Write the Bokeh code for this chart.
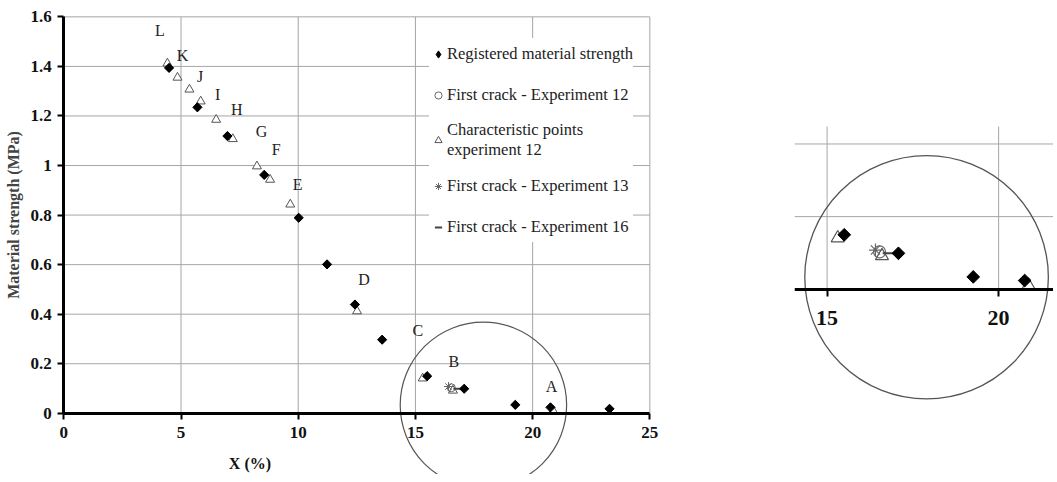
import math
from bokeh.plotting import figure
from bokeh.layouts import row
from bokeh.models import FixedTicker, Legend, LegendItem, Label
from bokeh.core.properties import value
from bokeh.embed import file_html
from bokeh.resources import INLINE

# ---------------- data ----------------
reg_x = [4.49, 5.70, 6.98, 8.55, 10.02, 11.23, 12.42, 13.58, 15.50, 17.08, 19.26, 20.76, 23.28]
reg_y = [1.394, 1.235, 1.119, 0.962, 0.789, 0.601, 0.439, 0.297, 0.150, 0.099, 0.034, 0.024, 0.018]

char_x = [4.42, 4.85, 5.36, 5.84, 6.50, 7.21, 8.24, 8.80, 9.66, 12.51, 15.31, 16.60, 20.87]
char_y = [1.412, 1.355, 1.307, 1.259, 1.185, 1.107, 0.997, 0.943, 0.843, 0.412, 0.141, 0.092, 0.011]

fc12_x = [16.53]
fc12_y = [0.103]
fc13_x = [16.41]
fc13_y = [0.108]
fc16_x = [16.81]
fc16_y = [0.099]

pt_labels = ["L", "K", "J", "I", "H", "G", "F", "E", "D", "C", "B", "A"]
pt_label_x = [4.10, 5.06, 5.81, 6.56, 7.38, 8.44, 9.06, 9.97, 12.81, 15.10, 16.64, 20.81]
pt_label_y = [1.543, 1.445, 1.358, 1.286, 1.228, 1.139, 1.064, 0.924, 0.540, 0.334, 0.210, 0.108]

zone_x = [17.9]
zone_y = [0.033]
zone_w = [7.1]
zone_h = [0.67]

x_ticks = [0, 5, 10, 15, 20, 25]
y_ticks = [0, 0.2, 0.4, 0.6, 0.8, 1, 1.2, 1.4, 1.6]
y_tick_labels = ["0", "0.2", "0.4", "0.6", "0.8", "1", "1.2", "1.4", "1.6"]

inset_x_ticks = [15, 20]
inset_y_grid = [0.2, 0.4]

x_title = "X (%)"
y_title = "Material strength (MPa)"

FONT = "'Liberation Serif', 'Times New Roman', serif"
GRID = "#a6a6a6"

# ---------------- main chart ----------------
p = figure(width=794, height=474, x_range=(-2.70, 31.17), y_range=(-0.247, 1.666),
           output_backend="svg", toolbar_location=None,
           min_border_left=0, min_border_right=0, min_border_top=0, min_border_bottom=0)
p.outline_line_color = None
p.xgrid.visible = False
p.ygrid.visible = False

# gridlines (bounded to the data area)
p.segment(x0=x_ticks[1:], y0=[y_ticks[0]] * (len(x_ticks) - 1),
          x1=x_ticks[1:], y1=[y_ticks[-1]] * (len(x_ticks) - 1),
          line_color=GRID, line_width=1)
p.segment(x0=[x_ticks[0]] * (len(y_ticks) - 1), y0=y_ticks[1:],
          x1=[x_ticks[-1]] * (len(y_ticks) - 1), y1=y_ticks[1:],
          line_color=GRID, line_width=1)

# axes
p.xaxis.fixed_location = 0
p.xaxis.bounds = (x_ticks[0], x_ticks[-1])
p.xaxis.ticker = FixedTicker(ticks=x_ticks)
p.yaxis.fixed_location = 0
p.yaxis.bounds = (y_ticks[0], y_ticks[-1])
p.yaxis.ticker = FixedTicker(ticks=y_ticks)
p.yaxis.major_label_overrides = {t: l for t, l in zip(y_ticks, y_tick_labels)}
for ax in (p.xaxis, p.yaxis):
    ax.axis_line_color = "black"
    ax.axis_line_width = 3
    ax.major_tick_line_color = "black"
    ax.major_tick_line_width = 2
    ax.major_tick_out = 6
    ax.major_tick_in = 0
    ax.minor_tick_line_color = None
    ax.major_label_text_font = FONT
    ax.major_label_text_font_style = "bold"
    ax.major_label_text_font_size = "17px"
    ax.major_label_text_color = "#111111"
p.xaxis.major_label_standoff = 8
p.yaxis.major_label_standoff = 6
p.yaxis.axis_label = y_title
p.yaxis.axis_label_text_font = FONT
p.yaxis.axis_label_text_font_style = "bold"
p.yaxis.axis_label_text_font_size = "16px"
p.yaxis.axis_label_standoff = 5

p.add_layout(Label(x=7.94, y=-0.203, text=x_title, text_font=FONT, text_font_style="bold",
                   text_font_size="16px", text_align="center", text_baseline="middle",
                   text_color="#111111"))

# series
r_char = p.scatter(char_x, char_y, marker="triangle", size=9, fill_color="white",
                   line_color="#555555", line_width=1)
r12 = p.scatter(fc12_x, fc12_y, marker="circle", size=8, fill_color=None,
                line_color="#666666", line_width=1)
r13 = p.scatter(fc13_x, fc13_y, marker="asterisk", size=9,
                line_color="#666666", line_width=1)
r16 = p.scatter(fc16_x, fc16_y, marker="dash", size=9,
                line_color="#444444", line_width=2)
# diamond renderer (used as legend key; covered by the rotated squares below)
r_reg_key = p.scatter(reg_x, reg_y, marker="diamond", size=8,
                      fill_color="black", line_color="black")
r_reg = p.scatter(reg_x, reg_y, marker="square", angle=math.pi / 4, size=6.5,
                  fill_color="black", line_color="black")

p.text(pt_label_x, pt_label_y, text=pt_labels, text_font=value(FONT),
       text_font_size="16px", text_align="center", text_baseline="middle",
       text_color="#222222")

p.ellipse(x=zone_x, y=zone_y, width=zone_w, height=zone_h, fill_color=None,
          line_color="#555555", line_width=1.2)

legend = Legend(items=[
    LegendItem(label="Registered material strength", renderers=[r_reg_key]),
    LegendItem(label="First crack - Experiment 12", renderers=[r12]),
    LegendItem(label="Characteristic points\nexperiment 12", renderers=[r_char]),
    LegendItem(label="First crack - Experiment 13", renderers=[r13]),
    LegendItem(label="First crack - Experiment 16", renderers=[r16]),
], location=(429, 232))
legend.label_text_font = FONT
legend.label_text_font_size = "16.5px"
legend.label_text_color = "#222222"
legend.padding = 8
legend.spacing = 10
legend.label_height = 31
legend.glyph_height = 18
legend.glyph_width = 18
legend.label_standoff = 0
legend.border_line_color = None
legend.background_fill_color = "white"
legend.background_fill_alpha = 1
p.add_layout(legend)

# ---------------- inset (zoom on A-C) ----------------
q = figure(width=259, height=474, x_range=(14.05, 21.60), y_range=(-0.510, 0.795),
           output_backend="svg", toolbar_location=None, y_axis_location=None,
           min_border_left=0, min_border_right=0, min_border_top=0, min_border_bottom=0)
q.outline_line_color = None
q.xgrid.visible = False
q.ygrid.visible = False

q.segment(x0=inset_x_ticks, y0=[0] * len(inset_x_ticks),
          x1=inset_x_ticks, y1=[0.448] * len(inset_x_ticks),
          line_color=GRID, line_width=1)
q.segment(x0=[14.05] * len(inset_y_grid), y0=inset_y_grid,
          x1=[21.60] * len(inset_y_grid), y1=inset_y_grid,
          line_color=GRID, line_width=1)

q.xaxis.fixed_location = 0
q.xaxis.ticker = FixedTicker(ticks=inset_x_ticks)
q.xaxis.axis_line_color = "black"
q.xaxis.axis_line_width = 3
q.xaxis.major_tick_line_color = "black"
q.xaxis.major_tick_line_width = 2
q.xaxis.major_tick_out = 7
q.xaxis.major_tick_in = 0
q.xaxis.minor_tick_line_color = None
q.xaxis.major_label_text_font = FONT
q.xaxis.major_label_text_font_style = "bold"
q.xaxis.major_label_text_font_size = "22px"
q.xaxis.major_label_text_color = "#111111"
q.xaxis.major_label_standoff = 15

q.scatter(char_x, char_y, marker="triangle", size=13, fill_color="white",
          line_color="#555555", line_width=1.2)
q.scatter(fc12_x, fc12_y, marker="circle", size=12, fill_color=None,
          line_color="#666666", line_width=1.2)
q.scatter(fc13_x, fc13_y, marker="asterisk", size=13, line_color="#666666", line_width=1.2)
q.scatter(fc16_x, fc16_y, marker="dash", size=13, line_color="#444444", line_width=2)
q.scatter(reg_x, reg_y, marker="square", angle=math.pi / 4, size=9,
          fill_color="black", line_color="black")
q.ellipse(x=zone_x, y=zone_y, width=zone_w, height=zone_h, fill_color=None,
          line_color="#555555", line_width=1.3)

layout = row(p, q)
open("out.html", "w").write(file_html(layout, INLINE))
